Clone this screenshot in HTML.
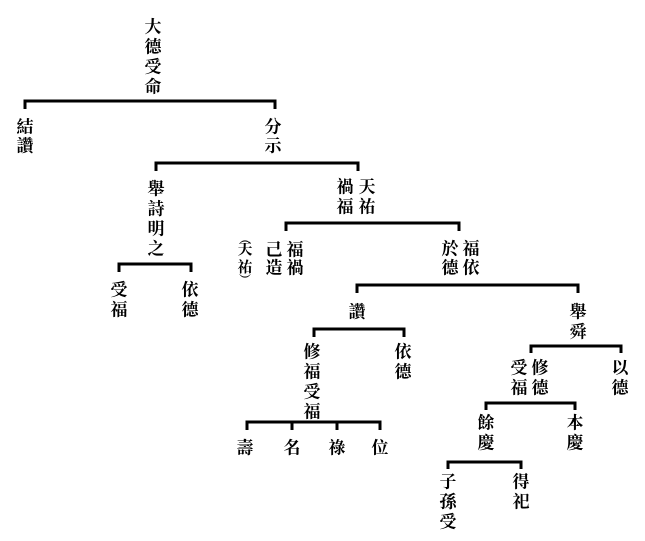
<!DOCTYPE html>
<html><head><meta charset="utf-8"><style>
html,body{margin:0;padding:0;background:#fff;}
svg{display:block;}
text{font-family:"Liberation Serif","Noto Serif CJK SC",serif;font-weight:bold;font-size:17px;fill:#000;text-anchor:middle;dominant-baseline:central;}
path{fill:none;stroke:#000;stroke-width:3;}
</style></head><body>
<svg width="645" height="541" viewBox="0 0 645 541" xmlns="http://www.w3.org/2000/svg">
<path d="M25 109 V101 H275 V109"/>
<path d="M156 171 V163 H358 V171"/>
<path d="M286 231 V223 H459 V231"/>
<path d="M119 272 V264 H191 V272"/>
<path d="M357 293 V285 H578 V293"/>
<path d="M314 337 V329 H404 V337"/>
<path d="M531 353 V346 H621 V353"/>
<path d="M247 430 V422 H380 V430 M292 422 V430 M337 422 V430"/>
<path d="M486 410 V403 H575 V410"/>
<path d="M448 469 V462 H521 V469"/>
<text x="153" y="27">大</text><text x="153" y="47">德</text><text x="153" y="67">受</text><text x="153" y="87">命</text>
<text x="25" y="127">結</text><text x="25" y="146">讚</text>
<text x="273" y="127">分</text><text x="273" y="146">示</text>
<text x="156" y="189">舉</text><text x="156" y="209">詩</text><text x="156" y="229">明</text><text x="156" y="249">之</text>
<text x="345" y="187">禍</text><text x="345" y="207">福</text>
<text x="367" y="187">天</text><text x="367" y="207">祐</text>
<text x="245" y="239" style="font-size:12px">︵</text>
<text x="245" y="250" style="font-size:15px">天</text><text x="245" y="268" style="font-size:15px">祐</text>
<text x="245" y="280" style="font-size:12px">︶</text>
<text x="274" y="250">己</text><text x="274" y="268">造</text>
<text x="295" y="250">福</text><text x="295" y="268">禍</text>
<text x="450" y="249">於</text><text x="450" y="268">德</text>
<text x="471" y="249">福</text><text x="471" y="268">依</text>
<text x="119" y="290">受</text><text x="119" y="310">福</text>
<text x="190" y="290">依</text><text x="190" y="310">德</text>
<text x="357" y="312">讚</text>
<text x="578" y="312">舉</text><text x="578" y="332">舜</text>
<text x="312" y="352">修</text><text x="312" y="372">福</text><text x="312" y="392">受</text><text x="312" y="412">福</text>
<text x="403" y="352">依</text><text x="403" y="372">德</text>
<text x="519" y="368">受</text><text x="519" y="388">福</text>
<text x="540" y="368">修</text><text x="540" y="388">德</text>
<text x="620" y="368">以</text><text x="620" y="388">德</text>
<text x="245" y="448">壽</text><text x="292" y="448">名</text><text x="337" y="448">祿</text><text x="380" y="448">位</text>
<text x="486" y="423">餘</text><text x="486" y="443">慶</text>
<text x="575" y="423">本</text><text x="575" y="443">慶</text>
<text x="448" y="482">子</text><text x="448" y="502">孫</text><text x="448" y="522">受</text>
<text x="521" y="482">得</text><text x="521" y="502">祀</text>
</svg>
</body></html>
